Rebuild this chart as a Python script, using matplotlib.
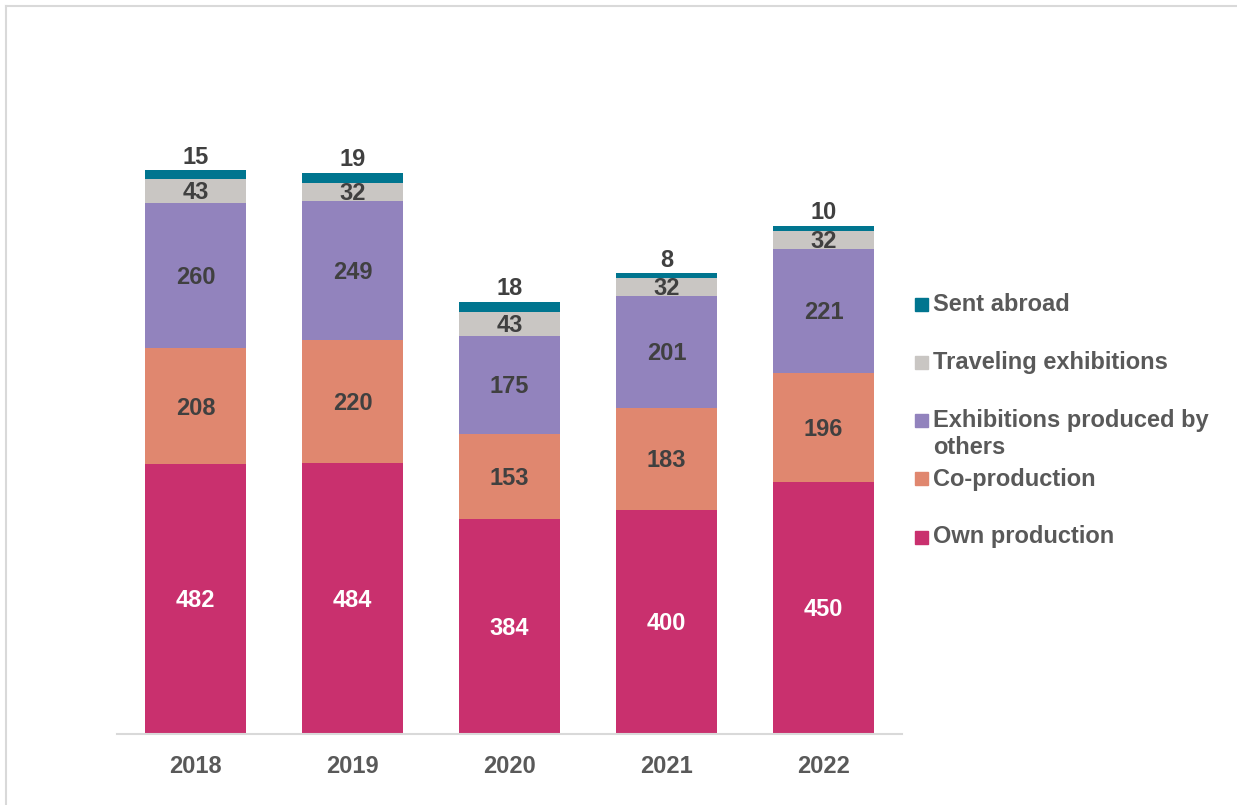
import matplotlib.pyplot as plt
from matplotlib.lines import Line2D
import numpy as np

plt.rcParams['font.family'] = ['Liberation Sans', 'DejaVu Sans']

years = ['2018', '2019', '2020', '2021', '2022']
own_production = [482, 484, 384, 400, 450]
co_production = [208, 220, 153, 183, 196]
produced_by_others = [260, 249, 175, 201, 221]
traveling = [43, 32, 43, 32, 32]
sent_abroad = [15, 19, 18, 8, 10]

series = [
    ('Own production', own_production, '#C9306E', 'white'),
    ('Co-production', co_production, '#E0876F', '#404040'),
    ('Exhibitions produced by\nothers', produced_by_others, '#9283BD', '#404040'),
    ('Traveling exhibitions', traveling, '#C9C6C3', '#404040'),
    ('Sent abroad', sent_abroad, '#00758F', '#404040'),
]

fig = plt.figure(figsize=(12.37, 8.05), dpi=100)
ax = fig.add_axes([117 / 1237, 71 / 805, 785 / 1237, 671 / 805])

x = np.arange(len(years))
bottom = np.zeros(len(years))
handles = []
for name, vals, col, tcol in series:
    vals = np.array(vals, dtype=float)
    ax.bar(x, vals, 0.64, bottom=bottom, color=col, linewidth=0)
    for i, v in enumerate(vals):
        if name == 'Sent abroad':
            ax.text(x[i], bottom[i] + v + 3, f'{int(v)}', ha='center', va='bottom',
                    fontsize=17, fontweight='bold', color=tcol)
        else:
            ax.text(x[i], bottom[i] + v / 2 - 3, f'{int(v)}', ha='center', va='center',
                    fontsize=17, fontweight='bold', color=tcol)
    bottom += vals
    handles.append((name, col))

ax.set_xlim(-0.5, 4.5)
ax.set_ylim(0, 1200)
ax.set_xticks(x)
ax.set_xticklabels(years, fontsize=17, fontweight='bold', color='#595959')
ax.tick_params(axis='x', length=0, pad=15)
ax.set_yticks([])
for s in ['top', 'right', 'left']:
    ax.spines[s].set_visible(False)
ax.spines['bottom'].set_color('#D9D9D9')
ax.spines['bottom'].set_linewidth(1.5)

# legend, top entry first
leg_y = [304, 362, 434, 479, 537]
for (name, col), yy in zip(reversed(handles), leg_y):
    fy = 1 - yy / 805
    sq_y = fy - 6.5 / 805
    if '\n' in name:
        sq_y += 13 / 805
    fig.patches.append(plt.Rectangle((915 / 1237, sq_y), 13 / 1237, 13 / 805,
                                     transform=fig.transFigure, color=col, figure=fig))
    fig.text(933 / 1237, fy, name, ha='left', va='center', fontsize=17,
             fontweight='bold', color='#595959', linespacing=1.2)

# outer frame (top and left only)
fig.add_artist(Line2D([6 / 1237, 1], [1 - 6 / 805, 1 - 6 / 805], color='#D9D9D9', lw=1.5))
fig.add_artist(Line2D([6 / 1237, 6 / 1237], [0, 1 - 6 / 805], color='#D9D9D9', lw=1.5))

fig.savefig('out.png', dpi=100)
